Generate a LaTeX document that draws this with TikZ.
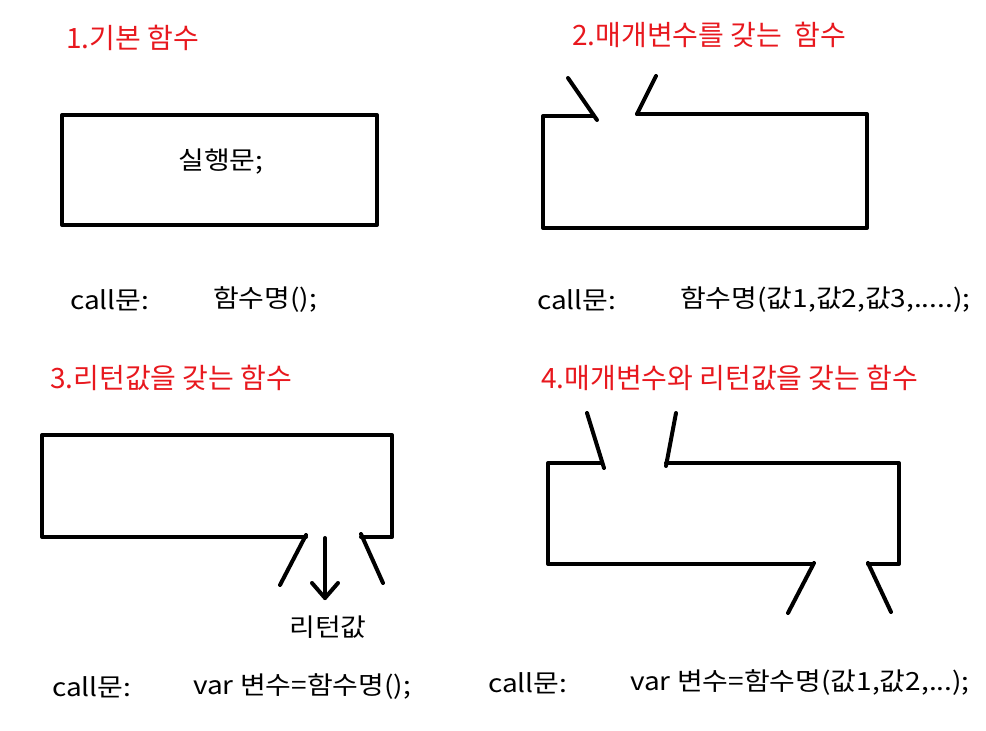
\documentclass[tikz,border=0pt]{standalone}
\usepackage{fontspec}
\setmainfont{Noto Sans CJK KR}
\newfontfamily\codefont[FakeStretch=1.12]{Noto Sans CJK KR}
\usetikzlibrary{arrows.meta}
\definecolor{titlered}{RGB}{232,24,30}
\tikzset{
  shape line/.style={line width=4pt, line cap=round, line join=round, black},
  title/.style={anchor=west, inner sep=0pt, text=titlered, font=\fontsize{28}{32}\selectfont},
  code/.style={anchor=west, inner sep=0pt, font=\codefont\fontsize{25}{30}\selectfont},
}
\begin{document}
\begin{tikzpicture}[x=1pt,y=-1pt]
\useasboundingbox[fill=white] (0,0) rectangle (986,731);

% titles
\node[title] (t1) at (66,38) {1.기본 함수};
\node[title] (t2) at (572,35) {2.매개변수를 갖는\ \ 함수};
\node[title] (t3) at (50,378) {3.리턴값을 갖는 함수};
\node[title] (t4) at (541,378) {4.매개변수와 리턴값을 갖는 함수};

% 1. basic function
\draw[shape line] (62,115) rectangle (377,225);
\node[code, anchor=center] (body1) at (221,162) {실행문;};
\node[code] (c1) at (70,300) {call문:};
\node[code] (f1) at (213,300) {함수명();};

% 2. with parameters
\draw[shape line] (593,116) -- (543,116) -- (543,228) -- (867,228) -- (867,114) -- (637,114);
\draw[shape line] (568,78) -- (597,120);
\draw[shape line] (656,76) -- (637,114);
\node[code] (c2) at (537,300) {call문:};
\node[code] (f2) at (680,300) {함수명(값1,값2,값3,.....);};

% 3. with return value
\draw[shape line] (306,537) -- (42,537) -- (42,435) -- (392,435) -- (392,537) -- (361,537);
\draw[shape line] (306,535) -- (280,585);
\draw[shape line] (361,534) -- (383,583);
\coordinate (a3s) at (325,538);
\coordinate (a3e) at (325,598);
\draw[shape line] (a3s) -- (a3e);
\draw[shape line] (312,583) -- (a3e) -- (338,583);
\node[code, anchor=center] (ret) at (328,627) {리턴값};
\node[code] (c3) at (52,687) {call문:};
\node[code] (f3) at (193,687) {var 변수=함수명();};

% 4. with parameters and return value
\draw[shape line] (602,463) -- (548,463) -- (548,564) -- (813,564);
\draw[shape line] (666,463) -- (899,463) -- (899,564) -- (868,564);
\draw[shape line] (587,413) -- (604,468);
\draw[shape line] (676,413) -- (666,466);
\draw[shape line] (814,563) -- (788,613);
\draw[shape line] (868,563) -- (891,612);
\node[code] (c4) at (488,683) {call문:};
\node[code] (f4) at (630,683) {var 변수=함수명(값1,값2,...);};
\end{tikzpicture}
\end{document}
